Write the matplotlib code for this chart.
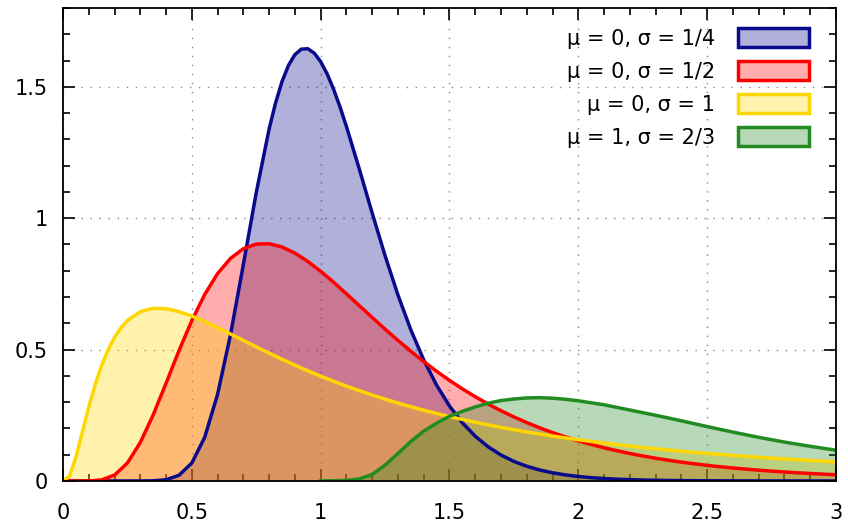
import numpy as np
import matplotlib.pyplot as plt
from matplotlib.colors import to_rgba
from matplotlib.patches import Patch
from matplotlib.ticker import MultipleLocator

# sample positions for the red curve
x = np.round(np.arange(0, 3.001, 0.05), 2)

# narrow blue curve gets a few extra samples around its peak
x_blue = [0, 0.05, 0.1, 0.15, 0.2, 0.25, 0.3, 0.35, 0.4, 0.45,
          0.5, 0.55, 0.6, 0.65, 0.7, 0.75, 0.8, 0.825, 0.85, 0.875,
          0.9, 0.925, 0.95, 0.975, 1.0, 1.025, 1.05, 1.075, 1.1, 1.15,
          1.2, 1.25, 1.3, 1.35, 1.4, 1.45, 1.5, 1.55, 1.6, 1.65,
          1.7, 1.75, 1.8, 1.85, 1.9, 1.95, 2.0, 2.05, 2.1, 2.15,
          2.2, 2.25, 2.3, 2.35, 2.4, 2.45, 2.5, 2.6, 2.7, 2.8, 2.9, 3.0]
blue = [0, 0, 0, 0, 0, 0, 0.0001, 0.0007, 0.0048, 0.0216,
        0.0683, 0.1663, 0.3299, 0.5562, 0.8238, 1.0973, 1.3395, 1.4386, 1.5198, 1.5813,
        1.6223, 1.6433, 1.6448, 1.6283, 1.5958, 1.5493, 1.4911, 1.4236, 1.3490, 1.1868,
        1.0194, 0.8573, 0.7076, 0.5751, 0.4607, 0.3646, 0.2855, 0.2214, 0.1703, 0.1300,
        0.0987, 0.0745, 0.0559, 0.0418, 0.0311, 0.0231, 0.0171, 0.0126, 0.0093, 0.0068,
        0.0050, 0.0037, 0.0027, 0.0020, 0.0014, 0.0011, 0.0008, 0.0004, 0.0002, 0.0001, 0, 0]

red = [0, 0, 0.0002, 0.0040, 0.0225, 0.0684, 0.1464, 0.2515, 0.3720, 0.4954,
       0.6104, 0.7098, 0.7892, 0.8469, 0.8838, 0.9015, 0.9028, 0.8904, 0.8671, 0.8355,
       0.7979, 0.7563, 0.7123, 0.6672, 0.6222, 0.5778, 0.5348, 0.4936, 0.4544, 0.4175,
       0.3828, 0.3505, 0.3206, 0.2928, 0.2673, 0.2437, 0.2221, 0.2023, 0.1842, 0.1677,
       0.1526, 0.1389, 0.1264, 0.1150, 0.1046, 0.0952, 0.0866, 0.0789, 0.0718, 0.0654,
       0.0595, 0.0542, 0.0494, 0.0451, 0.0411, 0.0375, 0.0342, 0.0312, 0.0285, 0.0260,
       0.0238]

# yellow rises steeply from zero, so it has denser samples at the start
x_yellow = [0, 0.025, 0.05, 0.075, 0.1, 0.125, 0.15, 0.175, 0.2, 0.225,
            0.25, 0.3, 0.35, 0.4, 0.45, 0.5, 0.55, 0.6, 0.65, 0.7,
            0.75, 0.8, 0.85, 0.9, 0.95, 1.0, 1.1, 1.2, 1.3, 1.4,
            1.5, 1.6, 1.7, 1.8, 1.9, 2.0, 2.1, 2.2, 2.3, 2.4,
            2.5, 2.6, 2.7, 2.8, 2.9, 3.0]
yellow = [0, 0.0177, 0.0898, 0.1857, 0.2815, 0.3673, 0.4399, 0.4991, 0.5464, 0.5828,
          0.6104, 0.6441, 0.6570, 0.6555, 0.6445, 0.6275, 0.6067, 0.5836, 0.5594, 0.5348,
          0.5103, 0.4864, 0.4632, 0.4408, 0.4194, 0.3989, 0.3610, 0.3270, 0.2965, 0.2693,
          0.2450, 0.2233, 0.2039, 0.1865, 0.1709, 0.1569, 0.1443, 0.1329, 0.1226, 0.1133,
          0.1049, 0.0972, 0.0902, 0.0839, 0.0780, 0.0727]

x_green = [1.0, 1.1, 1.15, 1.2, 1.25, 1.3, 1.35, 1.4, 1.45, 1.5,
           1.55, 1.6, 1.65, 1.7, 1.75, 1.8, 1.85, 1.9, 1.95, 2.0,
           2.1, 2.2, 2.3, 2.4, 2.5, 2.6, 2.7, 2.8, 2.9, 3.0]
green = [0, 0.002, 0.008, 0.025, 0.060, 0.105, 0.150, 0.190, 0.220, 0.246,
         0.265, 0.282, 0.296, 0.306, 0.312, 0.316, 0.317, 0.315, 0.311, 0.305,
         0.290, 0.270, 0.250, 0.229, 0.207, 0.186, 0.166, 0.148, 0.132, 0.117]

labels = ["μ = 0, σ = 1/4", "μ = 0, σ = 1/2", "μ = 0, σ = 1", "μ = 1, σ = 2/3"]
colors = ["#0a0a8c", "#ff0000", "#ffd700", "#228b22"]
xticks = [0, 0.5, 1, 1.5, 2, 2.5, 3]
xticklabels = ["0", "0.5", "1", "1.5", "2", "2.5", "3"]
yticks = [0, 0.5, 1, 1.5]
yticklabels = ["0", "0.5", "1", "1.5"]

plt.rcParams['font.family'] = ['DejaVu Sans']

fig = plt.figure(figsize=(8.48, 5.30), dpi=100)
ax = fig.add_axes([0.0743, 0.0925, 0.9115, 0.8925])

series = [(x_blue, blue), (x, red), (x_yellow, yellow), (x_green, green)]
for (xs, ys), c in zip(series, colors):
    ax.fill_between(xs, ys, 0, color=c, alpha=0.32, lw=0)
    ax.plot(xs, ys, color=c, lw=2.5, solid_joinstyle='round')

ax.set_xlim(0, 3)
ax.set_ylim(0, 1.8)
ax.set_xticks(xticks)
ax.set_xticklabels(xticklabels)
ax.set_yticks(yticks)
ax.set_yticklabels(yticklabels)
ax.xaxis.set_minor_locator(MultipleLocator(0.1))
ax.yaxis.set_minor_locator(MultipleLocator(0.1))

ax.tick_params(which='both', direction='in', top=True, right=True, width=1.2)
ax.tick_params(which='major', length=8.5, labelsize=15)
ax.tick_params(which='minor', length=5)
ax.tick_params(axis='y', pad=11)
ax.tick_params(axis='x', pad=16)
for s in ax.spines.values():
    s.set_linewidth(1.3)

ax.grid(True, which='major', color='#888888', lw=1, linestyle=(0, (1, 5.5)))
ax.set_axisbelow(True)

handles = [Patch(facecolor=to_rgba(c, 0.32), edgecolor=c, lw=2.5) for c in colors]
ax.legend(handles, labels, loc='upper right', bbox_to_anchor=(0.965, 0.957),
          frameon=False, markerfirst=False, fontsize=15, handlelength=3.4,
          handleheight=1.0, labelspacing=0.6, handletextpad=1.1,
          borderaxespad=0, borderpad=0)

fig.savefig("out.png", dpi=100)
